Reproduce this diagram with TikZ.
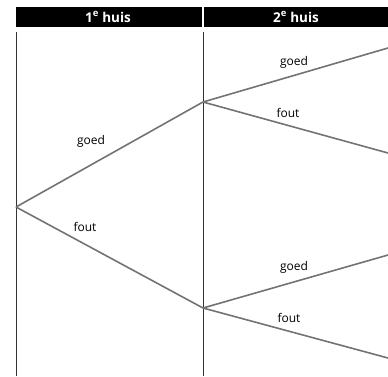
\documentclass[tikz,border=0pt]{standalone}
\usepackage{fontspec}
\setmainfont{Open Sans}
\begin{document}
\begin{tikzpicture}[x=1pt,y=-1pt,
  hdr/.style={fill=black,inner sep=0pt,outer sep=0pt},
  hdrtext/.style={text=white,font=\fontsize{13.5}{15}\selectfont\bfseries},
  col/.style={draw=black!80,line width=1pt},
  branch/.style={draw=black!55,line width=1.6pt},
  lbl/.style={font=\fontsize{12}{14}\selectfont,inner sep=0pt},
  pt/.style={inner sep=0pt,minimum size=0pt}]
\useasboundingbox (0,0) rectangle (388,376);
\fill[hdr] (16,7) rectangle (201.5,27);
\fill[hdr] (203.5,7) rectangle (388,27);
\node[hdrtext] (h1) at (108,17) {1\textsuperscript{e} huis};
\node[hdrtext] (h2) at (296,17) {2\textsuperscript{e} huis};
\coordinate (v1t) at (16,32); \coordinate (v1b) at (16,376);
\coordinate (v2t) at (203,32); \coordinate (v2b) at (203,376);
\draw[col] (v1t) -- (v1b);
\draw[col] (v2t) -- (v2b);
\node[pt] (r) at (16,207) {};
\node[pt] (a) at (203,102) {};
\node[pt] (b) at (203,308) {};
\coordinate (a1) at (388,48);
\coordinate (a2) at (388,153);
\coordinate (b1) at (388,255);
\coordinate (b2) at (388,358);
\draw[branch] (r.center) -- (a.center);
\draw[branch] (r.center) -- (b.center);
\draw[branch] (a.center) -- (a1);
\draw[branch] (a.center) -- (a2);
\draw[branch] (b.center) -- (b1);
\draw[branch] (b.center) -- (b2);
\node[lbl] (l1) at (91,141) {goed};
\node[lbl] (l2) at (85,227) {fout};
\node[lbl] (l3) at (294,62) {goed};
\node[lbl] (l4) at (288,113) {fout};
\node[lbl] (l5) at (294,267) {goed};
\node[lbl] (l6) at (289,318) {fout};
\end{tikzpicture}
\end{document}
